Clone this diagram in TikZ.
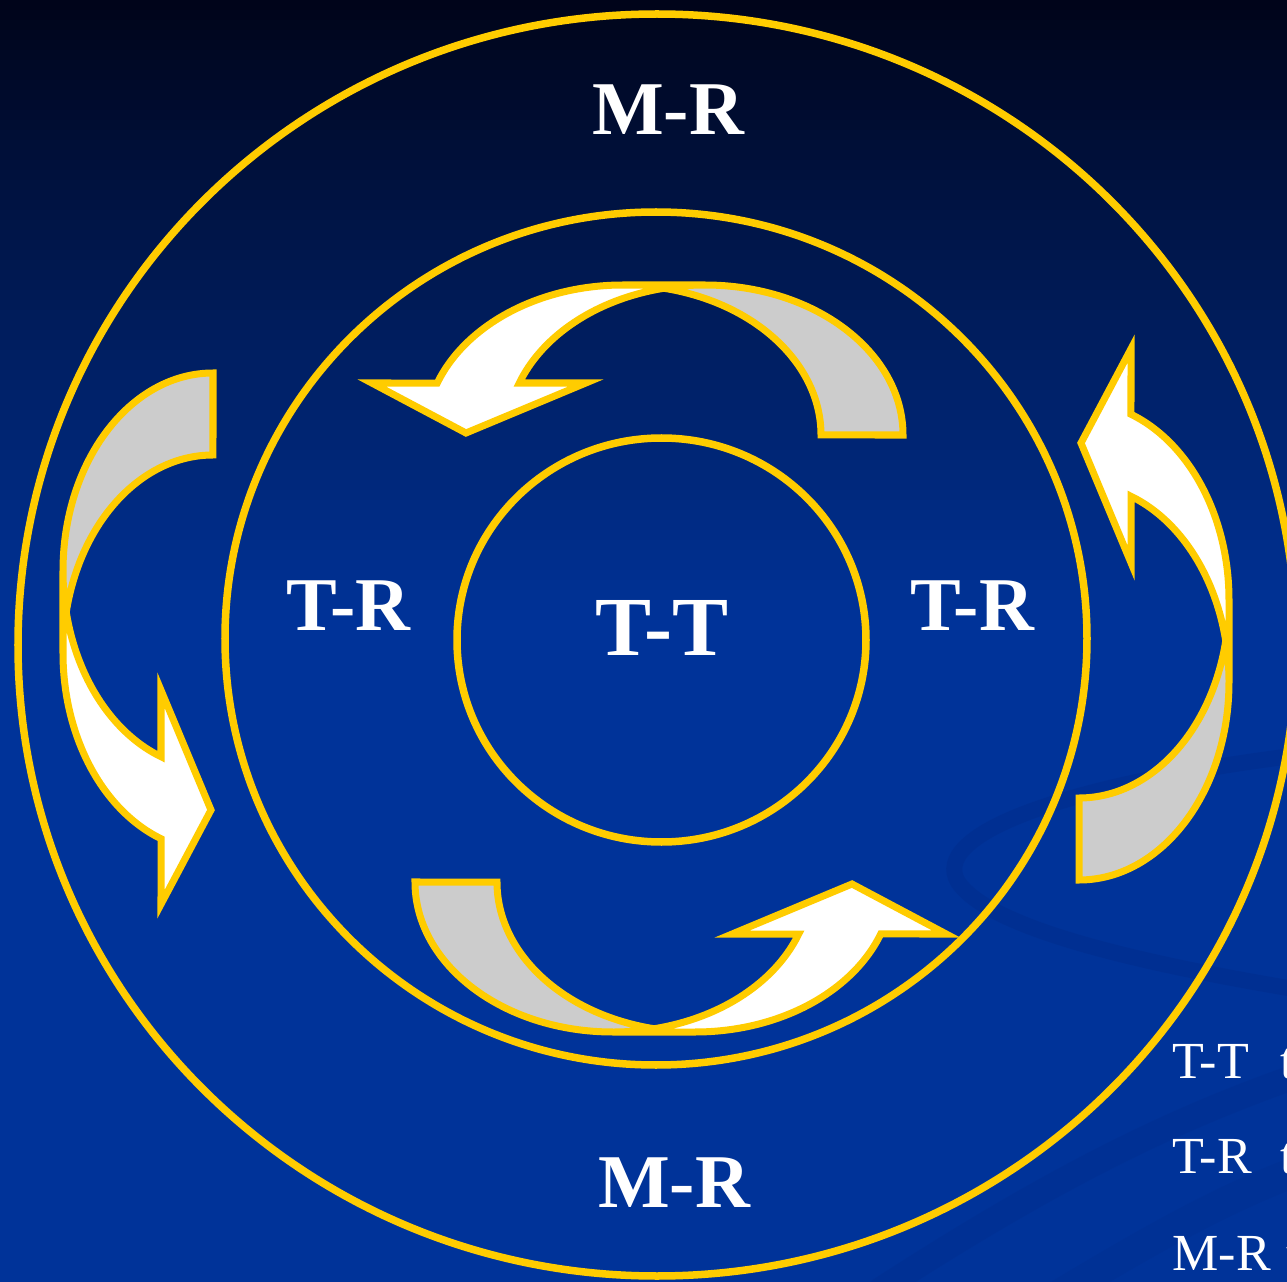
\documentclass[tikz,border=0pt]{standalone}
\usepackage{fontspec}
\setmainfont{Liberation Serif}
\definecolor{bgblue}{HTML}{003399}
\definecolor{bgtop}{HTML}{00041A}
\definecolor{gold}{HTML}{FFCC00}
\definecolor{backgray}{HTML}{CCCCCC}
\definecolor{swooshblue}{HTML}{002C8A}
\newcommand{\cyclearrow}{%
  \fill[backgray] (664,288.25) arc[start angle=281.95,end angle=360,x radius=198,y radius=150]
     -- (903,435) arc[start angle=0,end angle=-101.95,x radius=198,y radius=150] -- cycle;
  \fill[white] (466,433) -- (585.8,383) -- (519.3,383)
     arc[start angle=200.28,end angle=270,x radius=198,y radius=150] -- (623,285)
     arc[start angle=270,end angle=200.28,x radius=198,y radius=150] -- (371.8,383) -- cycle;
  \draw[outline] (664,288.25) arc[start angle=281.95,end angle=360,x radius=198,y radius=150]
     -- (903,435) arc[start angle=0,end angle=-90,x radius=198,y radius=150] -- (623,285)
     arc[start angle=270,end angle=200.28,x radius=198,y radius=150] -- (371.8,383) -- (466,433)
     -- (585.8,383) -- (519.3,383) arc[start angle=200.28,end angle=270,x radius=198,y radius=150];
}
\begin{document}
\begin{tikzpicture}[x=0.01cm,y=-0.01cm,
  ring/.style={draw=gold,line width=0.075cm},
  outline/.style={draw=gold,line width=0.07cm,line join=miter,miter limit=10},
  bigbold/.style={text=white,font=\fontsize{21.6pt}{26pt}\selectfont\bfseries,inner sep=0pt,anchor=base},
  note/.style={text=white,font=\fontsize{14.8pt}{18pt}\selectfont,inner sep=0pt,anchor=base west},
  swoosh/.style={draw=swooshblue,line cap=round,opacity=0.45}]
\useasboundingbox (0,0) rectangle (1287,1282);
\clip (0,0) rectangle (1287,1282);
% background
\fill[bgblue] (0,0) rectangle (1287,1282);
\foreach \i in {0,...,62}{
  \pgfmathsetmacro{\p}{min(100,\i*100/62)}
  \fill[bgblue!\p!bgtop] (0,\i*10) rectangle (1287,\i*10+11);
}
% faint swooshes
\draw[swoosh,line width=0.16cm] (1300,755) .. controls (1060,785) and (930,835) .. (958,882)
   .. controls (990,930) and (1150,965) .. (1300,990);
\draw[swoosh,line width=0.25cm,opacity=0.3] (880,1290) .. controls (1050,1180) and (1170,1120) .. (1300,1075);
\draw[swoosh,line width=0.3cm,opacity=0.25] (1050,1300) .. controls (1150,1240) and (1220,1200) .. (1300,1170);
% rings
\draw[ring] (657,645) ellipse [x radius=639,y radius=631];
\draw[ring] (656,638.5) ellipse [x radius=431,y radius=426.5];
\draw[ring] (661.5,640) ellipse [x radius=204.5,y radius=202];
% curved arrows
\cyclearrow
\begin{scope}[rotate around={180:(659,658.5)}]\cyclearrow\end{scope}
\begin{scope}[rotate around={90:(527,749)}]\cyclearrow\end{scope}
\begin{scope}[rotate around={180:(646,626.5)}]
  \begin{scope}[rotate around={90:(527,749)}]\cyclearrow\end{scope}
\end{scope}
% labels
\node[bigbold] (mrtop) at (668,135) {M-R};
\node[bigbold] (trleft) at (348.5,630) {T-R};
\node[bigbold] (trright) at (972,630) {T-R};
\node[bigbold,font=\fontsize{23.9pt}{28pt}\selectfont\bfseries] (tt) at (662,655) {T-T};
\node[bigbold] (mrbot) at (674,1207) {M-R};
\node[note] (n1) at (1172,1078) {T-T\hspace{0.6em}t};
\node[note] (n2) at (1172,1173) {T-R\hspace{0.55em}t};
\node[note] (n3) at (1172,1270) {M-R\hspace{0.3em}t};
\end{tikzpicture}
\end{document}
